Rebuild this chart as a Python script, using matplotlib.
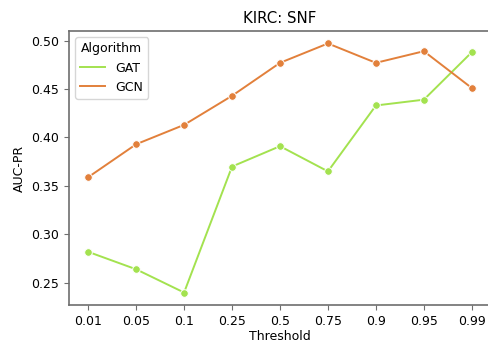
import matplotlib
matplotlib.use("Agg")
import matplotlib.pyplot as plt
from matplotlib.lines import Line2D

thresholds = ["0.01", "0.05", "0.1", "0.25", "0.5", "0.75", "0.9", "0.95", "0.99"]
gat = [0.282, 0.264, 0.240, 0.370, 0.391, 0.365, 0.433, 0.439, 0.488]
gcn = [0.359, 0.393, 0.413, 0.443, 0.477, 0.497, 0.477, 0.489, 0.451]

gat_color = "#a3e24f"
gcn_color = "#e2803b"
spine_color = "#6e6e6e"

plt.rcParams["font.size"] = 9

fig = plt.figure(figsize=(4.88, 3.42), dpi=100)
ax = fig.add_axes([69 / 488, 1 - 305 / 342, 422 / 488, 274 / 342])
x = range(len(thresholds))
ax.plot(x, gat, color=gat_color, marker="o", markersize=5.5, markeredgecolor="white",
        markeredgewidth=0.7, linewidth=1.4)
ax.plot(x, gcn, color=gcn_color, marker="o", markersize=5.5, markeredgecolor="white",
        markeredgewidth=0.7, linewidth=1.4)
ax.set_xticks(list(x))
ax.set_xticklabels(thresholds)
ax.set_yticks([0.25, 0.30, 0.35, 0.40, 0.45, 0.50])
ax.set_xlabel("Threshold", fontsize=9, labelpad=1.5)
ax.set_ylabel("AUC-PR", fontsize=9)
ax.set_title("KIRC: SNF", fontsize=10.8, pad=6)

for side in ["left", "bottom", "top", "right"]:
    ax.spines[side].set_color(spine_color)
    ax.spines[side].set_linewidth(1.2)
ax.tick_params(colors=spine_color, labelcolor="black", labelsize=9, length=3.5)

handles = [Line2D([], [], color=gat_color, linewidth=1.4),
           Line2D([], [], color=gcn_color, linewidth=1.4)]
ax.legend(handles, ["GAT", "GCN"], title="Algorithm", loc="upper left",
          fontsize=9, title_fontsize=9)
fig.savefig("out.png", dpi=100)
